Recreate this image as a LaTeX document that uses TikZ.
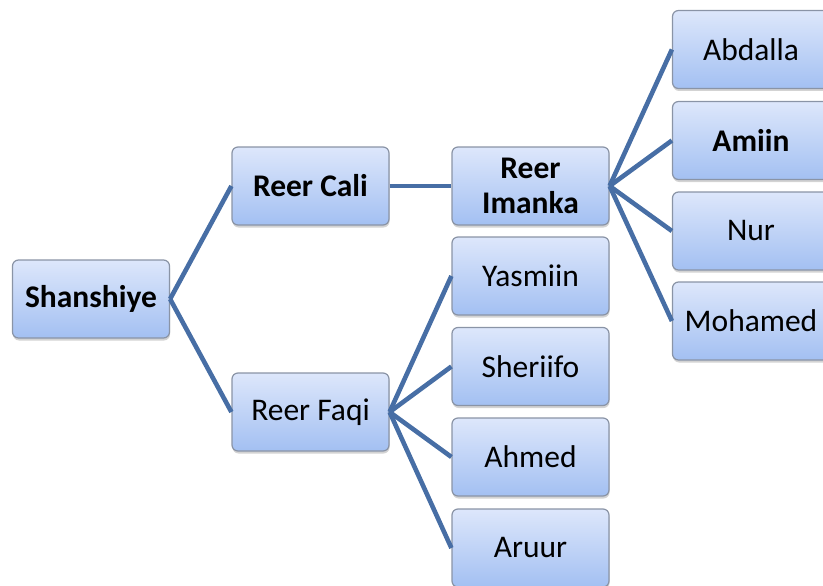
\documentclass[tikz,border=0pt]{standalone}
\usepackage{fontspec}
\setmainfont{Carlito}
\usetikzlibrary{shadows}
\definecolor{boxtop}{HTML}{DDE7FB}
\definecolor{boxbot}{HTML}{A3C0F2}
\definecolor{boxrim}{HTML}{8A94A6}
\definecolor{linkblue}{HTML}{476EA5}
\tikzset{
  famnode/.style={draw=boxrim, line width=1.2pt, rounded corners=6pt,
    top color=boxtop, bottom color=boxbot,
    minimum width=157pt, minimum height=78pt, inner sep=2pt,
    align=center, font=\fontsize{31.5}{35}\selectfont,
    drop shadow={shadow xshift=0.5pt, shadow yshift=-2.5pt, opacity=0.35}},
  link/.style={draw=linkblue, line width=4.6pt}
}
\begin{document}
\begin{tikzpicture}[x=1pt, y=-1pt]
        \useasboundingbox (0,0) rectangle (823,586);
        \clip (0,0) rectangle (823,586);
        \node[famnode] (shanshiye) at (91,299) {\textbf{Shanshiye}};
        \node[famnode] (cali) at (310.5,186) {\textbf{Reer Cali}};
        \node[famnode] (faqi) at (310.5,412) {Reer Faqi};
        \node[famnode] (imanka) at (530.5,186) {\textbf{Reer}\\\textbf{Imanka}};
        \node[famnode] (yasmiin) at (530.5,276) {Yasmiin};
        \node[famnode] (sheriifo) at (530.5,366.5) {Sheriifo};
        \node[famnode] (ahmed) at (530.5,457) {Ahmed};
        \node[famnode] (aruur) at (530.5,548) {Aruur};
        \node[famnode] (abdalla) at (751,49.5) {Abdalla};
        \node[famnode] (amiin) at (751,140.5) {\textbf{Amiin}};
        \node[famnode] (nur) at (751,231) {Nur};
        \node[famnode] (mohamed) at (751,321) {Mohamed};
        \draw[link] (shanshiye.east) -- (cali.west);
        \draw[link] (shanshiye.east) -- (faqi.west);
        \draw[link] (cali.east) -- (imanka.west);
        \draw[link] (imanka.east) -- (abdalla.west);
        \draw[link] (imanka.east) -- (amiin.west);
        \draw[link] (imanka.east) -- (nur.west);
        \draw[link] (imanka.east) -- (mohamed.west);
        \draw[link] (faqi.east) -- (yasmiin.west);
        \draw[link] (faqi.east) -- (sheriifo.west);
        \draw[link] (faqi.east) -- (ahmed.west);
        \draw[link] (faqi.east) -- (aruur.west);
    \end{tikzpicture}
\end{document}
